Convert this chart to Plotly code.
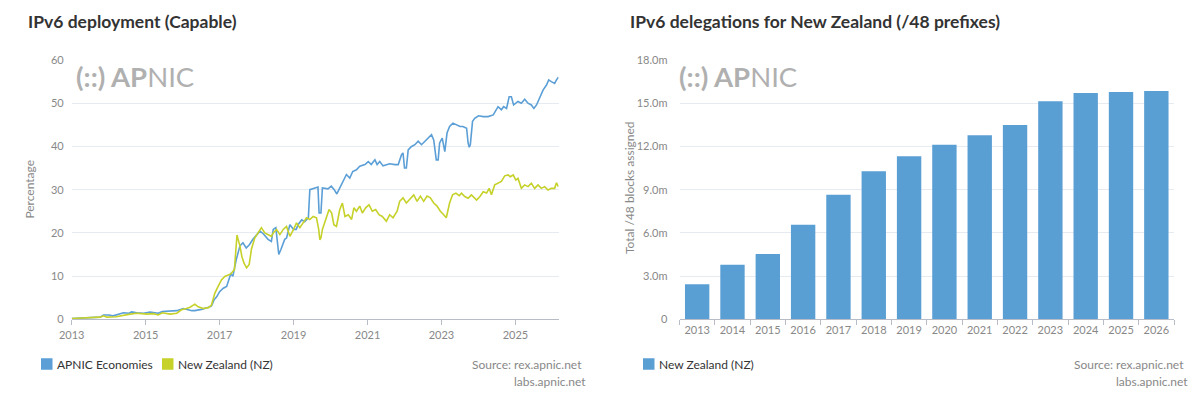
import plotly.graph_objects as go

# ---------------- Data ----------------
apnic_years = [2013.00, 2013.30, 2013.60, 2013.77, 2013.86, 2014.00, 2014.12, 2014.26, 2014.40, 2014.55,
               2014.62, 2014.76, 2014.94, 2015.12, 2015.25, 2015.34, 2015.45, 2015.57, 2015.70, 2015.84,
               2016.02, 2016.15, 2016.25, 2016.33, 2016.51, 2016.70, 2016.78, 2016.85, 2016.92, 2017.00,
               2017.10, 2017.19, 2017.25, 2017.30, 2017.36, 2017.45, 2017.55, 2017.63, 2017.72, 2017.81,
               2017.90, 2018.00, 2018.09, 2018.18, 2018.31, 2018.40, 2018.45, 2018.52, 2018.56, 2018.60,
               2018.66, 2018.76, 2018.81, 2018.90, 2019.00, 2019.07, 2019.13, 2019.22, 2019.30, 2019.40,
               2019.44, 2019.58, 2019.66, 2019.69, 2019.74, 2019.78, 2019.93, 2020.02, 2020.10, 2020.17,
               2020.25, 2020.34, 2020.43, 2020.52, 2020.60, 2020.70, 2020.79, 2020.93, 2021.02, 2021.10,
               2021.20, 2021.26, 2021.33, 2021.42, 2021.50, 2021.60, 2021.74, 2021.83, 2021.92, 2021.96,
               2022.00, 2022.05, 2022.10, 2022.19, 2022.28, 2022.37, 2022.46, 2022.55, 2022.64, 2022.73,
               2022.79, 2022.86, 2022.91, 2022.95, 2023.02, 2023.09, 2023.15, 2023.22, 2023.31, 2023.40,
               2023.50, 2023.58, 2023.68, 2023.72, 2023.75, 2023.78, 2023.84, 2023.90, 2024.00, 2024.13,
               2024.26, 2024.40, 2024.53, 2024.62, 2024.68, 2024.76, 2024.83, 2024.89, 2024.95, 2025.07,
               2025.16, 2025.25, 2025.34, 2025.43, 2025.50, 2025.57, 2025.66, 2025.75, 2025.84, 2025.90,
               2025.97, 2026.06, 2026.11, 2026.16]
apnic_values = [0.2, 0.3, 0.4, 0.5, 1.0, 1.0, 0.8, 1.2, 1.5, 1.4,
                1.7, 1.5, 1.4, 1.7, 1.6, 1.4, 1.8, 1.9, 1.9, 2.0,
                2.5, 2.2, 2.0, 2.0, 2.3, 2.8, 3.1, 4.5, 5.2, 6.4,
                7.2, 7.6, 9.5, 10.5, 10.0, 13.8, 17.0, 17.7, 16.5, 17.3,
                18.5, 19.6, 20.4, 19.8, 18.5, 18.0, 20.8, 21.2, 18.5, 15.0,
                16.2, 18.5, 18.8, 21.9, 20.8, 20.8, 22.0, 23.0, 22.6, 23.5,
                30.0, 30.4, 30.6, 24.6, 24.6, 30.4, 30.2, 30.8, 30.0, 29.0,
                30.4, 32.3, 33.5, 32.7, 34.2, 34.6, 35.4, 35.8, 36.5, 35.8,
                36.9, 35.8, 36.5, 35.5, 35.8, 36.0, 35.8, 35.8, 38.1, 38.5,
                35.0, 35.0, 39.2, 40.0, 40.4, 41.2, 40.4, 41.2, 41.9, 42.7,
                41.5, 36.9, 36.9, 40.8, 41.9, 38.8, 43.1, 44.6, 45.4, 45.0,
                44.6, 44.6, 44.2, 40.8, 39.8, 40.4, 45.8, 46.5, 47.1, 46.9,
                46.9, 47.3, 49.2, 48.5, 49.2, 48.8, 51.5, 51.5, 49.6, 50.4,
                50.0, 50.9, 50.0, 49.6, 48.8, 49.6, 51.5, 53.1, 54.2, 55.4,
                55.0, 54.6, 55.4, 56.0]

nz_years = [2013.00, 2013.40, 2013.77, 2013.86, 2013.95, 2014.20, 2014.40, 2014.58, 2014.76, 2015.03,
            2015.20, 2015.34, 2015.45, 2015.66, 2015.84, 2015.97, 2016.10, 2016.20, 2016.33, 2016.42,
            2016.56, 2016.70, 2016.78, 2016.87, 2016.96, 2017.05, 2017.14, 2017.23, 2017.30, 2017.40,
            2017.45, 2017.47, 2017.50, 2017.55, 2017.60, 2017.66, 2017.73, 2017.80, 2017.86, 2017.95,
            2018.04, 2018.13, 2018.22, 2018.30, 2018.40, 2018.45, 2018.54, 2018.63, 2018.72, 2018.81,
            2018.90, 2019.00, 2019.08, 2019.17, 2019.26, 2019.35, 2019.44, 2019.53, 2019.62, 2019.68,
            2019.71, 2019.74, 2019.78, 2019.87, 2019.96, 2020.03, 2020.09, 2020.16, 2020.25, 2020.32,
            2020.39, 2020.48, 2020.57, 2020.63, 2020.70, 2020.79, 2020.86, 2020.95, 2021.04, 2021.13,
            2021.22, 2021.31, 2021.40, 2021.51, 2021.60, 2021.69, 2021.80, 2021.87, 2021.96, 2022.05,
            2022.14, 2022.25, 2022.34, 2022.43, 2022.52, 2022.61, 2022.70, 2022.79, 2022.88, 2022.97,
            2023.06, 2023.13, 2023.22, 2023.30, 2023.39, 2023.48, 2023.54, 2023.63, 2023.72, 2023.81,
            2023.95, 2024.04, 2024.13, 2024.22, 2024.29, 2024.35, 2024.44, 2024.53, 2024.62, 2024.71,
            2024.80, 2024.86, 2024.94, 2025.01, 2025.07, 2025.16, 2025.25, 2025.34, 2025.43, 2025.52,
            2025.61, 2025.70, 2025.79, 2025.88, 2025.97, 2026.06, 2026.11, 2026.16]
nz_values = [0.2, 0.3, 0.5, 0.8, 0.5, 0.6, 1.0, 1.2, 1.4, 1.2,
             1.3, 1.0, 1.5, 1.2, 1.4, 2.2, 2.5, 2.8, 3.5, 2.9,
             2.5, 2.7, 3.3, 6.0, 7.6, 9.1, 9.9, 10.3, 10.5, 11.5,
             19.2, 19.5, 18.5, 17.0, 14.6, 13.0, 11.9, 12.7, 16.2, 18.8,
             20.0, 21.2, 20.0, 19.6, 19.2, 20.0, 20.8, 19.6, 20.8, 21.5,
             19.2, 20.8, 22.3, 21.2, 22.3, 23.5, 23.1, 23.8, 23.5, 20.8,
             18.4, 18.8, 20.8, 23.1, 25.4, 24.6, 21.9, 21.5, 25.4, 26.9,
             23.8, 24.2, 23.1, 25.8, 25.0, 26.2, 24.6, 25.8, 26.5, 25.0,
             25.4, 24.2, 23.8, 22.7, 24.2, 23.5, 25.0, 27.3, 28.1, 26.9,
             27.7, 28.8, 27.3, 28.5, 27.3, 28.5, 28.1, 26.9, 26.2, 25.0,
             24.2, 23.5, 26.9, 28.8, 29.2, 28.6, 29.2, 28.4, 28.0, 28.8,
             27.6, 28.4, 29.5, 29.2, 30.3, 28.8, 31.1, 31.5, 31.9, 33.2,
             33.4, 33.0, 33.4, 32.2, 32.6, 30.3, 31.1, 30.7, 31.5, 30.3,
             31.1, 30.3, 30.7, 29.9, 30.3, 30.3, 31.6, 30.7]

deleg_years = ["2013", "2014", "2015", "2016", "2017", "2018", "2019",
               "2020", "2021", "2022", "2023", "2024", "2025", "2026"]
deleg_values = [2.43e6, 3.79e6, 4.53e6, 6.56e6, 8.64e6, 10.28e6, 11.32e6,
                12.11e6, 12.78e6, 13.49e6, 15.13e6, 15.71e6, 15.78e6, 15.85e6]

left_xticks = [2013, 2015, 2017, 2019, 2021, 2023, 2025]
left_yticks = [0, 10, 20, 30, 40, 50, 60]
right_yticks = [0, 3e6, 6e6, 9e6, 12e6, 15e6, 18e6]
right_yticktext = ["0", "3.0m", "6.0m", "9.0m", "12.0m", "15.0m", "18.0m"]

left_legend_names = ["APNIC Economies", "New Zealand (NZ)"]
right_legend_names = ["New Zealand (NZ)"]

# ---------------- Styling ----------------
W, H = 1200, 393
OX, OY = 8, 8          # page offset of the figure inside the browser window
FONT = "Lato"
BLUE = "#5b9fd6"
GREEN = "#c6d12a"
BAR = "#5a9fd4"
GRID = "#e6eaf1"
AXIS = "#b7bcc6"
LABEL = "#888888"
TEXT = "#333333"

def px_x(p):
    return (p - OX) / W

def px_y(p):
    return 1 - (p - OY) / H

fig = go.Figure()

fig.add_trace(go.Scatter(x=apnic_years, y=apnic_values, mode="lines", name=left_legend_names[0],
                         line=dict(color=BLUE, width=1.6), showlegend=False,
                         xaxis="x", yaxis="y"))
fig.add_trace(go.Scatter(x=nz_years, y=nz_values, mode="lines", name=left_legend_names[1],
                         line=dict(color=GREEN, width=1.6), showlegend=False,
                         xaxis="x", yaxis="y"))
fig.add_trace(go.Bar(x=deleg_years, y=deleg_values, name=right_legend_names[0],
                     marker=dict(color=BAR, line=dict(width=0)), showlegend=False,
                     xaxis="x2", yaxis="y2"))

tickfont = dict(family=FONT, size=11, color=LABEL)

fig.update_layout(
    width=W, height=H,
    margin=dict(l=0, r=0, t=0, b=0, autoexpand=False),
    paper_bgcolor="white", plot_bgcolor="white",
    font=dict(family=FONT, color=TEXT),
    bargap=0.31,
    showlegend=False,
    xaxis=dict(domain=[px_x(71.7), px_x(558.7)], range=[2013, 2026.17],
               tickvals=left_xticks, tickformat="d", tickfont=tickfont, tickangle=0,
               showgrid=False, zeroline=False, showline=True, linecolor=AXIS, linewidth=1,
               ticks="outside", ticklen=5, tickcolor=AXIS, anchor="y", automargin=False),
    yaxis=dict(domain=[px_y(319.3), px_y(60)], range=[0, 60], tickvals=left_yticks,
               tickfont=tickfont, showgrid=True, gridcolor=GRID, gridwidth=1,
               zeroline=False, showline=False, ticklabelstandoff=7, anchor="x", automargin=False),
    xaxis2=dict(domain=[px_x(679.5), px_x(1174)], type="category",
                tickfont=tickfont, tickangle=0, showgrid=False, zeroline=False, showline=True,
                linecolor=AXIS, linewidth=1, ticks="outside", ticklen=5, tickcolor=AXIS,
                tickson="boundaries", anchor="y2", automargin=False),
    yaxis2=dict(domain=[px_y(319.3), px_y(60)], range=[0, 18e6], tickvals=right_yticks,
                ticktext=right_yticktext, tickfont=tickfont, showgrid=True, gridcolor=GRID,
                zeroline=False, showline=False, ticklabelstandoff=11, anchor="x2", automargin=False),
)

annotations = []
shapes = []
# titles
annotations.append(dict(text="<b>IPv6 deployment (Capable)</b>", x=px_x(26), y=px_y(22),
                        xref="paper", yref="paper", xanchor="left", yanchor="middle",
                        showarrow=False, font=dict(family=FONT, size=17.5, color=TEXT)))
annotations.append(dict(text="<b>IPv6 delegations for New Zealand (/48 prefixes)</b>", x=px_x(628),
                        y=px_y(22), xref="paper", yref="paper", xanchor="left", yanchor="middle",
                        showarrow=False, font=dict(family=FONT, size=17.5, color=TEXT)))
# axis titles
annotations.append(dict(text="Percentage", x=px_x(30), y=px_y(189.6), xref="paper", yref="paper",
                        xanchor="center", yanchor="middle", textangle=-90, showarrow=False,
                        font=dict(family=FONT, size=12, color=LABEL)))
annotations.append(dict(text="Total /48 blocks assigned", x=px_x(629), y=px_y(188), xref="paper",
                        yref="paper", xanchor="center", yanchor="middle", textangle=-90,
                        showarrow=False, font=dict(family=FONT, size=12, color=LABEL)))
# watermark logos
for lx in (74, 677):
    annotations.append(dict(text="<b>(::) AP</b>NIC", x=px_x(lx), y=px_y(76), xref="paper",
                            yref="paper", xanchor="left", yanchor="middle", showarrow=False,
                            font=dict(family=FONT, size=27.5, color="#b0b0b0")))
# source notes
for rx in (584, 1186):
    annotations.append(dict(text="Source: rex.apnic.net", x=px_x(rx), y=px_y(364), xref="paper",
                            yref="paper", xanchor="right", yanchor="middle", showarrow=False,
                            font=dict(family=FONT, size=12, color=LABEL)))
    annotations.append(dict(text="labs.apnic.net", x=px_x(rx + 4), y=px_y(381), xref="paper",
                            yref="paper", xanchor="right", yanchor="middle", showarrow=False,
                            font=dict(family=FONT, size=12, color=LABEL)))

# legends (square swatch + label)
def legend_item(x_sq, label, color, y_c=364, size=11.5):
    shapes.append(dict(type="rect", xref="paper", yref="paper",
                       x0=px_x(x_sq), x1=px_x(x_sq + size),
                       y0=px_y(y_c + size / 2), y1=px_y(y_c - size / 2),
                       fillcolor=color, line=dict(width=0)))
    annotations.append(dict(text=label, x=px_x(x_sq + size + 2), y=px_y(y_c), xref="paper",
                            yref="paper", xanchor="left", yanchor="middle", showarrow=False,
                            font=dict(family=FONT, size=12, color=TEXT)))

legend_item(41, left_legend_names[0], BLUE)
legend_item(162, left_legend_names[1], GREEN)
legend_item(643, right_legend_names[0], BAR)

fig.update_layout(annotations=annotations, shapes=shapes)

fig.write_html("out.html")
